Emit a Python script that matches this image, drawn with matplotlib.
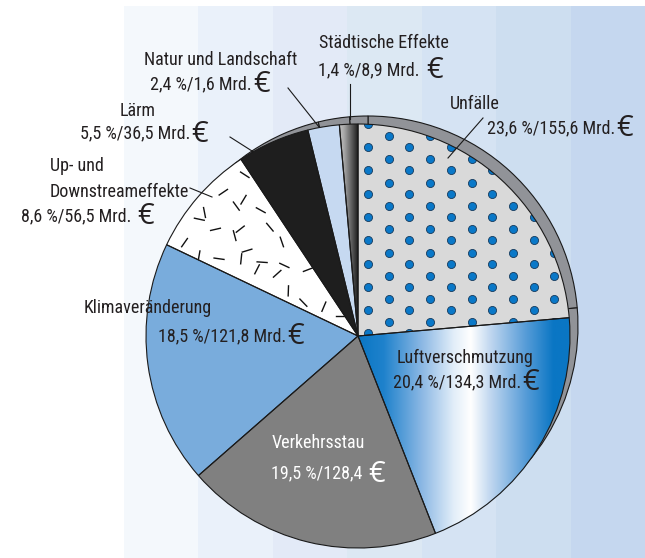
import numpy as np
import matplotlib
matplotlib.use("Agg")
import matplotlib.pyplot as plt
from matplotlib.patches import Rectangle
from matplotlib.colors import LinearSegmentedColormap

# DATA
labels = ["Unfälle", "Luftverschmutzung", "Verkehrsstau", "Klimaveränderung",
          "Up- und\nDownstreameffekte", "Lärm", "Natur und Landschaft", "Städtische Effekte"]
shares = [23.6, 20.4, 19.5, 18.5, 8.6, 5.5, 2.4, 1.4]
share_txt = ["23,6", "20,4", "19,5", "18,5", "8,6", "5,5", "2,4", "1,4"]
mrd_txt = ["155,6", "134,3", "128,4", "121,8", "56,5", "36,5", "1,6", "8,9"]
colors = ["#d9d9d9", "#0a78c6", "#808080", "#79acdc", "#ffffff", "#1e1e1e", "#c6d9f1", "#808080"]
stripe_colors = ["#f4f8fc", "#eaf1fa", "#e3eaf7", "#dce8f3", "#d5e3f3", "#cddef0", "#c5d7ef"]

H = 558
def Y(y):
    return H - y

FONT = ["Roboto Condensed", "Archivo Narrow", "PT Sans Narrow", "Liberation Sans Narrow", "DejaVu Sans"]
EURO_FONT = ["Open Sans", "DejaVu Sans"]
TXT = "#231f20"
EDGE = "#1a1a1a"

fig = plt.figure(figsize=(6.45, 5.58), dpi=100)
ax = fig.add_axes([0, 0, 1, 1])

# background stripes
edges = np.linspace(124, 645, len(stripe_colors) + 1)
for i, c in enumerate(stripe_colors):
    ax.add_patch(Rectangle((edges[i], 0), edges[i + 1] - edges[i], H - 6, fc=c, ec="none", zorder=0))

cx, cy, R = 358, Y(336), 212

# gray rim behind the pie (shifted up-right)
ax.pie(shares, startangle=90, counterclock=False, center=(cx + 10, cy + 10), radius=R - 2,
       colors=["#919398"] * len(shares), wedgeprops=dict(edgecolor=EDGE, linewidth=0.8, zorder=2))

# main pie fills
wedges, _ = ax.pie(shares, startangle=90, counterclock=False, center=(cx, cy), radius=R,
                   colors=colors, wedgeprops=dict(edgecolor="none", linewidth=0, zorder=3))

# Luftverschmutzung: horizontal blue-white-blue gradient
luft_cmap = LinearSegmentedColormap.from_list("luft", [
    (0.0, "#0a76c4"), (0.12, "#1f82cc"), (0.3, "#8cb8e4"), (0.45, "#e2eef9"),
    (0.53, "#ffffff"), (0.62, "#c2d8f0"), (0.78, "#5c9fd9"), (0.92, "#0a76c4"), (1.0, "#0a76c4")])
grad = np.linspace(0, 1, 256).reshape(1, -1)
im = ax.imshow(grad, extent=[358, 571, cy - R, cy + 40], aspect="auto", cmap=luft_cmap,
               zorder=4, interpolation="bilinear")
im.set_clip_path(wedges[1])

# Städtische Effekte: gray to black gradient
st_cmap = LinearSegmentedColormap.from_list("st", [
    (0.0, "#d4d4d4"), (0.35, "#a8a8a8"), (0.7, "#5a5a5a"), (1.0, "#141414")])
im2 = ax.imshow(grad, extent=[336, 359, cy, cy + R + 2], aspect="auto", cmap=st_cmap,
                zorder=4, interpolation="bilinear")
im2.set_clip_path(wedges[7])

# Unfälle: blue dot texture
cols = np.arange(-2, 14)
rows = np.arange(-2, 12)
gx, gy = np.meshgrid(cols, rows)
px = 368 + gx * 20.7
py = 147 + gy * 23.3 - (gx % 2) * 11.0
dots = ax.scatter(px.ravel(), Y(py.ravel()), s=34, c="#0a78c8", edgecolors="#163a5c",
                  linewidths=0.6, zorder=4)
dots.set_clip_path(wedges[0])

# Up- und Downstreameffekte: short dash texture
a0, a1 = 123.84, 154.8
k = 0
for r in np.arange(26, 215, 19):
    n = max(1, int(np.radians(a1 - a0) * r / 20))
    for j in range(n):
        ang = np.radians(a0 + (j + 0.5 + 0.3 * ((k * 7) % 3 - 1)) * (a1 - a0) / n)
        x0 = cx + r * np.cos(ang)
        y0 = cy + r * np.sin(ang)
        t = np.radians((k * 67) % 180)
        dx, dy = 5 * np.cos(t), 5 * np.sin(t)
        ln, = ax.plot([x0 - dx, x0 + dx], [y0 - dy, y0 + dy], color="#111111", lw=1.0, zorder=4)
        ln.set_clip_path(wedges[4])
        k += 1

# outlines on top
ax.pie(shares, startangle=90, counterclock=False, center=(cx, cy), radius=R,
       colors=["none"] * len(shares), wedgeprops=dict(edgecolor=EDGE, linewidth=0.8, zorder=5))

# leader lines
leaders = [((288, 88), (319, 127)), ((350, 84), (350, 119)), ((483, 118), (448, 158)),
           ((230, 137), (252, 151)), ((190, 188), (212, 197))]
for (x1, y1), (x2, y2) in leaders:
    ax.plot([x1, x2], [Y(y1), Y(y2)], color=EDGE, lw=0.8, zorder=7)

# labels: (first line anchor x, y, ha), (end of number text x, y)
layout = {
    0: ((450, 104, "left"), (615, 128)),
    1: ((465, 358, "center"), (521, 382)),
    2: ((318, 443, "center"), (362, 473)),
    3: ((148, 308, "center"), (286, 336)),
    4: ((50, 179, "left"), (131, 216)),
    5: ((138, 111, "center"), (190, 133)),
    6: ((221, 60, "center"), (252, 84)),
    7: ((384, 43, "center"), (420, 70)),
}
FS = 13
for i, lab in enumerate(labels):
    (x1, y1, ha1), (x2, y2) = layout[i]
    col = "white" if i == 2 else TXT
    ax.text(x1, Y(y1), lab, ha=ha1, va="center", fontsize=FS, family=FONT, color=col,
            zorder=8, linespacing=1.55)
    num = f"{share_txt[i]} %/{mrd_txt[i]}" + ("" if i == 2 else " Mrd.")
    ax.text(x2, Y(y2), num, ha="right", va="center", fontsize=FS, family=FONT, color=col, zorder=8)
    gap = 6 if i in (2, 7, 4) else 1
    ax.text(x2 + gap, Y(y2) - 1, "€", ha="left", va="center", fontsize=21,
            family=EURO_FONT, color=col, zorder=8)

ax.set_xlim(0, 645)
ax.set_ylim(0, H)
ax.set_aspect("auto")
ax.axis("off")
fig.savefig("out.png", dpi=100)
